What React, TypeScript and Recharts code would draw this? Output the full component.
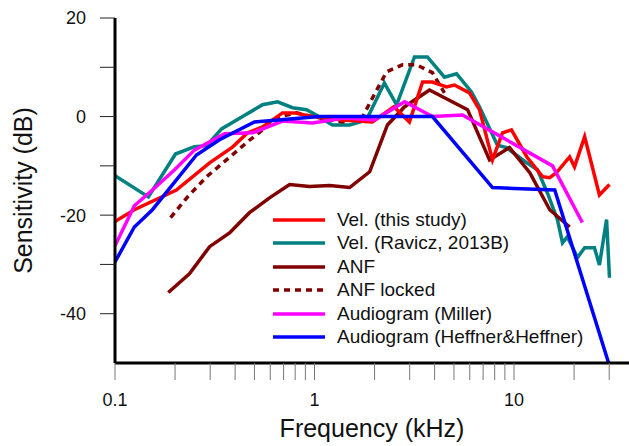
import { CartesianGrid, Label, Legend, Line, LineChart, XAxis, YAxis } from "recharts";

const FONT = '"Liberation Sans", Arial, sans-serif';

// Vel. (this study)
const velFreq = [0.1, 0.125, 0.203, 0.298, 0.388, 0.462, 0.549, 0.691, 0.794, 0.944, 1.38, 1.95, 2.5, 2.99, 3.48, 3.9, 4.59, 5.03, 5.98, 6.71, 7.8, 8.75, 9.71, 11.6, 13.9, 15.1, 16.3, 19.0, 20.1, 22.6, 26.8, 30.1];
const velDb = [-21.3, -18.9, -14.9, -9.4, -6.2, -3.3, -2.1, 0.75, 0.75, 0.1, -0.7, -1.1, 2.0, -1.1, 7.0, 7.0, 6.0, 6.4, 4.8, 1.4, -8.8, -3.3, -2.7, -8.2, -12.2, -12.4, -11.4, -8.2, -10.2, -4.1, -15.9, -13.8];

// Vel. (Ravicz, 2013B)
const ravFreq = [0.1, 0.147, 0.201, 0.25, 0.288, 0.342, 0.436, 0.549, 0.653, 0.776, 0.912, 1.02, 1.23, 1.5, 1.82, 2.24, 2.58, 3.17, 3.68, 4.48, 5.15, 6.12, 6.71, 8.26, 9.17, 11.6, 13.1, 14.7, 16.5, 17.5, 18.5, 20.8, 22.6, 25.3, 26.8, 29.1, 30.1];
const ravDb = [-12.0, -16.3, -7.6, -6.1, -5.9, -2.5, 0, 2.4, 3.0, 1.8, 1.4, 0.3, -1.7, -1.7, -0.7, 6.8, 2.4, 12.1, 12.1, 8.0, 8.7, 5.0, 2.0, -5.8, -6.3, -9.4, -10.8, -15.5, -20.9, -25.6, -24.4, -28.6, -26.6, -26.6, -30.1, -20.9, -32.7];

// ANF
const anfFreq = [0.185, 0.236, 0.298, 0.375, 0.472, 0.595, 0.75, 0.944, 1.19, 1.5, 1.89, 2.32, 2.83, 3.77, 5.85, 7.54, 9.49, 12.0, 15.1, 19.0];
const anfDb = [-35.7, -31.9, -26.4, -23.6, -19.5, -16.5, -13.8, -14.2, -14.0, -14.4, -11.2, -1.7, 2.0, 5.4, 1.4, -8.8, -6.3, -11.4, -18.9, -22.4];

// ANF locked
const lockFreq = [0.19, 0.231, 0.288, 0.362, 0.472, 0.574, 0.691, 0.812, 0.977, 1.38, 1.74, 1.93, 2.3, 2.76, 3.25, 3.9, 4.48];
const lockDb = [-20.5, -16.3, -12.2, -8.8, -4.8, -2.1, 0.1, 0.75, 0, -1.1, -0.1, 3.4, 9.1, 10.5, 10.5, 8.9, 4.8];

// Audiogram (Miller)
const millerFreq = [0.1, 0.125, 0.154, 0.199, 0.25, 0.354, 0.489, 0.691, 0.977, 1.41, 2.0, 2.83, 3.9, 5.52, 15.6, 22.0];
const millerDb = [-26.2, -18.1, -14.9, -10.8, -6.8, -3.5, -3.3, -0.9, -1.3, -0.3, -0.7, 3.0, 0, 0.3, -10.0, -21.5];

// Audiogram (Heffner&Heffner)
const heffFreq = [0.1, 0.125, 0.154, 0.256, 0.334, 0.5, 1.06, 3.9, 7.8, 16.0, 29.8];
const heffDb = [-29.5, -22.4, -18.9, -7.8, -4.7, -1.1, 0, 0, -14.4, -14.9, -50];

const xTicks = [0.1, 0.2, 0.3, 0.4, 0.5, 0.6, 0.7, 0.8, 0.9, 1, 2, 3, 4, 5, 6, 7, 8, 9, 10, 20, 30];
const xLabels = [0.1, 1, 10];
const yTicks = [-40, -30, -20, -10, 0, 10, 20];
const yLabels = [-40, -20, 0, 20];

const toPoints = (fs: number[], vs: number[]) => fs.map((f, i) => ({ f, v: vs[i] }));

const series = [
  { name: "Vel. (this study)", color: "#ff0000", dash: undefined, data: toPoints(velFreq, velDb) },
  { name: "Vel. (Ravicz, 2013B)", color: "#008080", dash: undefined, data: toPoints(ravFreq, ravDb) },
  { name: "ANF", color: "#800000", dash: undefined, data: toPoints(anfFreq, anfDb) },
  { name: "ANF locked", color: "#800000", dash: "6 5", data: toPoints(lockFreq, lockDb) },
  { name: "Audiogram (Miller)", color: "#ff00ff", dash: undefined, data: toPoints(millerFreq, millerDb) },
  { name: "Audiogram (Heffner&Heffner)", color: "#0000ff", dash: undefined, data: toPoints(heffFreq, heffDb) },
];

// draw order: teal underneath, blue on top
const drawOrder = [1, 2, 3, 0, 4, 5];

function LegendBox() {
  return (
    <div style={{ fontFamily: FONT, fontSize: 19, color: "#111" }}>
      {series.map((s) => (
        <div key={s.name} style={{ display: "flex", alignItems: "center", height: 23.5 }}>
          <svg width={52} height={6} style={{ marginRight: 12 }}>
            <line x1={0} y1={3} x2={52} y2={3} stroke={s.color} strokeWidth={3.5} strokeDasharray={s.dash} />
          </svg>
          <span style={{ whiteSpace: "nowrap" }}>{s.name}</span>
        </div>
      ))}
    </div>
  );
}

export default function App() {
  return (
    <div style={{ position: "absolute", left: 0, top: 0, background: "#fff" }}>
      <LineChart width={629} height={446} margin={{ top: 18, right: 0, bottom: 0, left: 0 }}>
        <CartesianGrid stroke="none" />
        <XAxis
          type="number"
          dataKey="f"
          scale="log"
          domain={[0.1, 37.7]}
          allowDataOverflow
          ticks={xTicks}
          interval={0}
          height={83}
          tickSize={17}
          tickMargin={13}
          tickFormatter={(t: number) => (xLabels.includes(t) ? String(t) : "")}
          tick={{ fontSize: 18, fill: "#111", fontFamily: FONT }}
          axisLine={{ stroke: "#000", strokeWidth: 3 }}
          tickLine={{ stroke: "#777", strokeWidth: 1 }}
        >
          <Label
            content={({ viewBox }: any) => (
              <text
                x={viewBox.x + viewBox.width / 2}
                y={428}
                textAnchor="middle"
                dominantBaseline="central"
                fontSize={25}
                fontFamily={FONT}
                fill="#111"
              >
                Frequency (kHz)
              </text>
            )}
          />
        </XAxis>
        <YAxis
          type="number"
          domain={[-50, 20]}
          ticks={yTicks}
          interval={0}
          width={115}
          tickSize={15}
          tickMargin={14}
          tickFormatter={(t: number) => (yLabels.includes(t) ? String(t) : "")}
          tick={{ fontSize: 18, fill: "#111", fontFamily: FONT }}
          axisLine={{ stroke: "#000", strokeWidth: 3 }}
          tickLine={{ stroke: "#222", strokeWidth: 1 }}
        >
          <Label
            content={({ viewBox }: any) => {
              const cy = viewBox.y + viewBox.height / 2;
              return (
                <text
                  x={23}
                  y={cy}
                  transform={`rotate(-90 23 ${cy})`}
                  textAnchor="middle"
                  dominantBaseline="central"
                  fontSize={25}
                  fontFamily={FONT}
                  fill="#111"
                >
                  Sensitivity (dB)
                </text>
              );
            }}
          />
        </YAxis>
        <Legend
          layout="vertical"
          align="center"
          verticalAlign="middle"
          content={() => <LegendBox />}
          wrapperStyle={{ left: 273, top: 208, width: 320, height: 145 }}
        />
        {drawOrder.map((i) => {
          const s = series[i];
          return (
            <Line
              key={s.name}
              data={s.data}
              dataKey="v"
              name={s.name}
              type="linear"
              stroke={s.color}
              strokeWidth={3.5}
              strokeDasharray={s.dash}
              dot={false}
              activeDot={false}
              isAnimationActive={false}
            />
          );
        })}
      </LineChart>
    </div>
  );
}
